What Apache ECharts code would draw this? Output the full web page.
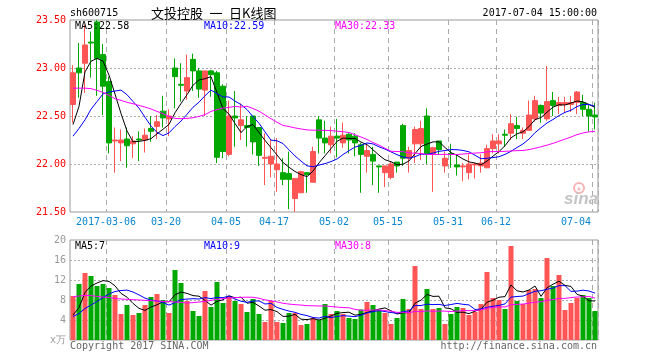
<!DOCTYPE html>
<html><head><meta charset="utf-8">
<script src="https://cdn.jsdelivr.net/npm/echarts@6/dist/echarts.min.js"></script>
<style>html,body{margin:0;padding:0;background:#fff}#c{width:660px;height:360px}</style>
</head><body><div id="c"></div>
<script>
const dates = [
'2017-02-24','2017-02-27','2017-02-28','2017-03-01','2017-03-02','2017-03-03',
'2017-03-06','2017-03-07','2017-03-08','2017-03-09','2017-03-10',
'2017-03-13','2017-03-14','2017-03-15','2017-03-16','2017-03-17',
'2017-03-20','2017-03-21','2017-03-22','2017-03-23','2017-03-24',
'2017-03-27','2017-03-28','2017-03-29','2017-03-30','2017-03-31',
'2017-04-05','2017-04-06','2017-04-07',
'2017-04-10','2017-04-11','2017-04-12','2017-04-13','2017-04-14',
'2017-04-17','2017-04-18','2017-04-19','2017-04-20','2017-04-21',
'2017-04-24','2017-04-25','2017-04-26','2017-04-27','2017-04-28',
'2017-05-02','2017-05-03','2017-05-04','2017-05-05',
'2017-05-08','2017-05-09','2017-05-10','2017-05-11','2017-05-12',
'2017-05-15','2017-05-16','2017-05-17','2017-05-18','2017-05-19',
'2017-05-22','2017-05-23','2017-05-24','2017-05-25','2017-05-26',
'2017-05-31','2017-06-01','2017-06-02',
'2017-06-05','2017-06-06','2017-06-07','2017-06-08','2017-06-09',
'2017-06-12','2017-06-13','2017-06-14','2017-06-15','2017-06-16',
'2017-06-19','2017-06-20','2017-06-21','2017-06-22','2017-06-23',
'2017-06-26','2017-06-27','2017-06-28','2017-06-29','2017-06-30',
'2017-07-03','2017-07-04'];

const opens = [22.62,23.00,23.05,23.27,23.48,23.14,22.86,22.24,22.22,22.26,
22.21,22.26,22.25,22.37,22.39,22.55,22.47,23.00,22.83,22.76,
23.09,22.97,22.77,22.97,22.95,22.81,22.10,22.50,22.40,22.40,
22.50,22.38,22.06,22.00,21.94,21.91,21.90,21.64,21.70,21.91,
21.81,22.46,22.27,22.20,22.29,22.22,22.31,22.29,22.20,22.08,
22.10,21.98,21.91,21.86,22.02,22.40,22.06,22.21,22.21,22.50,
22.11,22.24,21.98,22.11,21.99,21.97,21.91,21.99,21.98,21.96,
22.16,22.21,22.31,22.32,22.40,22.32,22.35,22.47,22.61,22.47,
22.66,22.61,22.62,22.62,22.64,22.64,22.57,22.51];
const closes = [22.95,22.95,23.24,23.26,23.10,22.81,22.22,22.25,22.25,22.19,
22.24,22.25,22.30,22.34,22.44,22.48,22.50,22.91,22.82,22.90,
22.97,22.78,22.97,22.93,22.07,22.13,22.50,22.48,22.46,22.38,
22.23,22.09,22.07,22.08,22.00,21.84,21.84,21.85,21.92,21.89,
22.13,22.27,22.22,22.29,22.27,22.30,22.25,22.22,22.10,22.14,
22.03,21.97,21.98,22.00,21.98,22.06,22.14,22.36,22.37,22.11,
22.17,22.15,22.06,22.10,21.97,21.98,22.00,22.00,22.01,22.16,
22.24,22.24,22.30,22.42,22.37,22.35,22.51,22.66,22.53,22.65,
22.61,22.64,22.64,22.64,22.75,22.57,22.50,22.49];
const lows = [22.43,22.69,22.74,22.90,22.71,22.51,22.11,21.91,22.03,21.96,
22.06,22.03,22.12,22.23,22.26,22.38,22.29,22.58,22.65,22.67,
22.76,22.69,22.50,22.70,22.01,22.06,22.08,22.18,22.25,22.18,
22.10,21.98,21.78,21.86,21.71,21.78,21.53,21.50,21.70,21.70,
21.81,22.11,22.11,22.11,22.07,22.17,22.11,22.08,21.70,21.91,
21.78,21.70,21.76,21.84,21.91,21.98,21.91,22.01,22.04,22.00,
21.71,22.10,21.91,21.96,21.88,21.82,21.84,21.85,21.91,21.96,
22.11,22.11,22.18,22.25,22.26,22.26,22.35,22.44,22.43,22.45,
22.50,22.52,22.53,22.54,22.52,22.50,22.34,22.36];
const highs = [23.03,23.26,23.45,23.38,23.50,23.25,22.91,22.38,22.36,22.38,
22.29,22.34,22.37,22.50,22.51,22.71,22.57,23.10,23.05,23.14,
23.15,23.00,22.97,22.98,22.97,22.83,22.66,22.76,22.63,22.50,
22.50,22.38,22.32,22.25,22.27,22.06,22.13,21.85,21.93,21.91,
22.18,22.50,22.45,22.39,22.47,22.43,22.32,22.32,22.22,22.21,
22.18,21.98,21.98,22.03,22.02,22.42,22.18,22.39,22.45,22.58,
22.18,22.24,22.13,22.21,22.10,22.01,22.10,22.01,22.10,22.20,
22.31,22.31,22.36,22.52,22.49,22.38,22.66,22.71,22.62,23.02,
22.75,22.70,22.70,22.71,22.76,22.72,22.62,22.64];
const volumes = [8.8,11.2,13.4,12.8,10.8,11.2,10.4,9.0,5.2,7.0,
5.0,5.4,7.0,8.6,9.2,8.0,5.4,14.0,11.4,7.8,
5.8,4.8,9.8,6.6,11.6,7.4,8.8,7.8,7.2,5.6,
8.2,5.2,3.6,7.8,3.6,3.4,5.4,5.4,3.0,3.2,
4.4,4.0,7.2,5.2,5.8,5.2,4.4,4.2,6.1,7.6,
7.0,6.0,5.4,3.2,4.4,8.2,6.2,14.8,6.2,10.2,
6.2,6.4,3.2,5.2,6.6,6.4,5.0,5.6,7.2,13.6,
8.4,8.0,6.2,18.8,7.8,7.2,10.0,10.2,8.4,16.4,
10.8,13.0,6.0,7.4,8.4,9.0,8.4,5.8];

// moving-average values before enough in-window history exists
const ma5Lead = [22.41,22.60,22.96,23.07];
const ma10Lead = [22.29,22.37,22.46,22.57,22.65,22.73,22.75,22.76,22.77];
const ma30Lead = [22.79,22.79,22.79,22.785,22.767,22.746,22.715,22.68,22.663,22.642,22.628,22.61,22.593,22.573,22.548,22.524,22.496,22.475,22.472,22.475,22.482,22.496,22.514,22.548,22.566,22.583,22.59,22.60,22.593];
const vma5Lead = [5.0,6.5,9.5,10.8];
const vma10Lead = [4.7,5.3,6.3,7.0,7.7,8.5,9.2,9.7,9.9];
const vma30Lead = [8.67,8.8,8.93,8.87,8.73,8.6,8.47,8.33,8.2,8.13,8.07,8.0,7.93,7.87,7.8,7.73,7.67,7.6,7.53,7.4,7.47,7.6,7.73,7.93,8.13,8.27,8.4,8.47,8.53];

const tickDates = ['2017-03-06','2017-03-20','2017-04-05','2017-04-17','2017-05-02','2017-05-15','2017-05-31','2017-06-12','2017-07-04'];
const tickLabels = ['2017-03-06','03-20','04-05','04-17','05-02','05-15','05-31','06-12','07-04'];

const titleCode = 'sh600715';
const titleName = '文投控股\u2002一\u2002日K线图';
const titleTime = '2017-07-04 15:00:00';
const priceLegend = ['MA5:22.58','MA10:22.59','MA30:22.33'];
const volLegend = ['MA5:7','MA10:9','MA30:8'];
const copyright = 'Copyright 2017 SINA.COM';
const siteUrl = 'http://finance.sina.com.cn';

function ma(src, n, lead) {
  return src.map((v, i) => {
    if (i < n - 1) return lead[i];
    let s = 0;
    for (let j = i - n + 1; j <= i; j++) s += src[j];
    return +(s / n).toFixed(3);
  });
}

const UP = '#ff5555', DOWN = '#00a800';
const MONO = 'DejaVu Sans Mono';
const tickIdx = tickDates.map(d => dates.indexOf(d));
const isTick = (i) => tickIdx.indexOf(i) >= 0;

const kData = dates.map((d, i) => [opens[i], closes[i], lows[i], highs[i]]);
const volData = volumes.map((v, i) => ({ value: v, itemStyle: { color: closes[i] >= opens[i] ? UP : DOWN } }));

const chart = echarts.init(document.getElementById('c'), null, { renderer: 'canvas' });

const dashV = { show: true, interval: (i) => isTick(i), lineStyle: { color: '#aaa', type: [5, 4], width: 1 } };
const dotH = { show: true, showMinLine: false, showMaxLine: false, lineStyle: { color: '#aaa', type: [2, 2], width: 1 } };

function lineSeries(data, color, xi, yi) {
  return { type: 'line', data: data, xAxisIndex: xi, yAxisIndex: yi, symbol: 'none', smooth: false,
    lineStyle: { color: color, width: 1 }, itemStyle: { color: color }, z: 5, silent: true };
}

const txt = (text, x, y, fill, align, font) => ({
  type: 'text', z: 100, style: { text, x, y, fill, textAlign: align || 'left', textVerticalAlign: 'middle', font: font || ('10px "' + MONO + '"') }
});

chart.setOption({
  animation: false,
  backgroundColor: '#fff',
  grid: [
    { left: 70, top: 20, width: 528, height: 192, show: true, borderColor: '#999', borderWidth: 1, backgroundColor: 'transparent' },
    { left: 70, top: 240, width: 528, height: 100, show: true, borderColor: '#999', borderWidth: 1, backgroundColor: 'transparent' }
  ],
  xAxis: [
    { type: 'category', gridIndex: 0, data: dates, boundaryGap: true,
      axisLine: { show: false }, axisTick: { show: false },
      axisLabel: { interval: (i) => isTick(i), margin: 5,
        formatter: (v) => { const j = tickDates.indexOf(v); if (j < 0) return ''; return (j === tickDates.length - 1 ? '{r|' : '{c|') + tickLabels[j] + '}'; },
        rich: {
          c: { color: '#0a86d0', fontFamily: MONO, fontSize: 10, padding: [0, 6, 0, 0] },
          r: { color: '#0a86d0', fontFamily: MONO, fontSize: 10, padding: [0, 38, 0, 0] }
        } },
      splitLine: dashV },
    { type: 'category', gridIndex: 1, data: dates, boundaryGap: true,
      axisLine: { show: false }, axisTick: { show: false }, axisLabel: { show: false },
      splitLine: dashV }
  ],
  yAxis: [
    { type: 'value', gridIndex: 0, min: 21.5, max: 23.5, interval: 0.5, scale: false,
      axisLine: { show: false }, axisTick: { show: false },
      axisLabel: { color: '#ff0000', fontFamily: MONO, fontSize: 10, margin: 4, formatter: (v) => v.toFixed(2) },
      splitLine: dotH },
    { type: 'value', gridIndex: 1, min: 0, max: 20, interval: 4,
      axisLine: { show: false }, axisTick: { show: false },
      axisLabel: { color: '#999', fontFamily: MONO, fontSize: 10, margin: 4, formatter: (v) => v === 0 ? 'x万' : String(v) },
      splitLine: dotH }
  ],
  series: [
    { type: 'candlestick', xAxisIndex: 0, yAxisIndex: 0, data: kData, barWidth: 5, z: 2,
      itemStyle: { color: UP, color0: DOWN, borderColor: UP, borderColor0: DOWN, borderWidth: 1 } },
    lineSeries(ma(closes, 5, ma5Lead), '#000000', 0, 0),
    lineSeries(ma(closes, 10, ma10Lead), '#0000ff', 0, 0),
    lineSeries(ma(closes, 30, ma30Lead), '#ff00ff', 0, 0),
    { type: 'bar', xAxisIndex: 1, yAxisIndex: 1, data: volData, barWidth: 5, z: 2 },
    lineSeries(ma(volumes, 5, vma5Lead), '#000000', 1, 1),
    lineSeries(ma(volumes, 10, vma10Lead), '#0000ff', 1, 1),
    lineSeries(ma(volumes, 30, vma30Lead), '#ff00ff', 1, 1)
  ],
  graphic: [
    txt(titleCode, 70, 13, '#000'),
    txt(titleName, 151, 13, '#000', 'left', '13px "Noto Sans CJK SC"'),
    txt(titleTime, 597, 13, '#000', 'right'),
    txt(priceLegend[0], 75, 26, '#000'),
    txt(priceLegend[1], 204, 26, '#0000ff'),
    txt(priceLegend[2], 335, 26, '#ff00ff'),
    txt(volLegend[0], 75, 246, '#000'),
    txt(volLegend[1], 204, 246, '#0000ff'),
    txt(volLegend[2], 335, 246, '#ff00ff'),
    txt(copyright, 70, 346, '#666'),
    txt(siteUrl, 597, 346, '#666', 'right'),
    { type: 'circle', z: 100, shape: { cx: 579, cy: 188, r: 5 }, style: { fill: 'none', stroke: '#f5b5b5', lineWidth: 2 } },
    { type: 'circle', z: 100, shape: { cx: 579, cy: 189, r: 1.5 }, style: { fill: '#f5b5b5' } },
    txt('sina', 581, 199, '#c4c4c4', 'center', 'italic bold 17px "Liberation Sans"')
  ]
});
</script>
</body></html>
